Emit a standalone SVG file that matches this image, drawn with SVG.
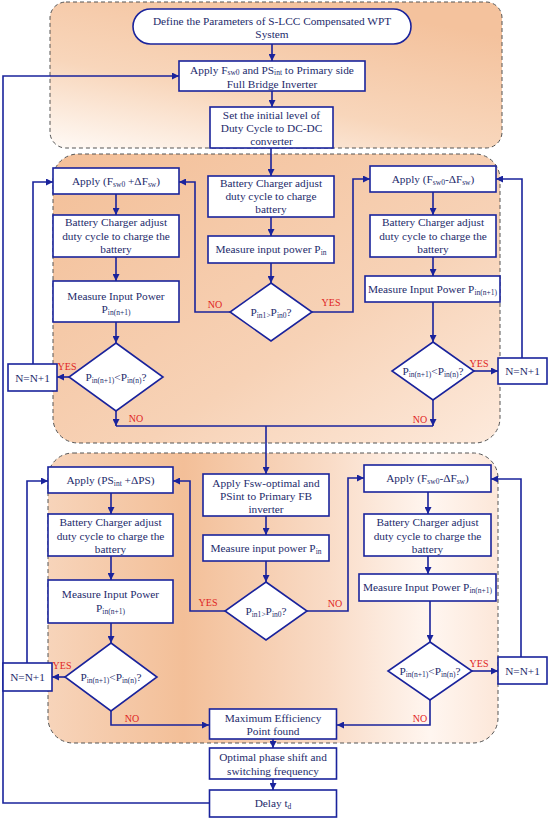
<svg xmlns="http://www.w3.org/2000/svg" width="550" height="820" viewBox="0 0 550 820">
<defs>
<linearGradient id="g1" x1="0" y1="1" x2="0.6" y2="0">
<stop offset="0" stop-color="#fffaf6"/><stop offset="0.45" stop-color="#f8d6bb"/><stop offset="1" stop-color="#f4c29d"/>
</linearGradient>
<linearGradient id="g2" x1="0" y1="0" x2="1" y2="1">
<stop offset="0" stop-color="#f3bf98"/><stop offset="0.6" stop-color="#f7d2b6"/><stop offset="1" stop-color="#fdeadc"/>
</linearGradient>
<linearGradient id="g3" x1="0" y1="0" x2="1" y2="0">
<stop offset="0" stop-color="#f7d4ba"/><stop offset="0.3" stop-color="#f3bf98"/><stop offset="0.62" stop-color="#f9dbc6"/><stop offset="0.85" stop-color="#fff6f0"/><stop offset="1" stop-color="#fce7d9"/>
</linearGradient>
<marker id="ah" viewBox="0 0 10 10" refX="10" refY="5" markerWidth="7" markerHeight="7" markerUnits="userSpaceOnUse" orient="auto">
<path d="M0,0 L10,5 L0,10 z" fill="#1a239c"/>
</marker>
<style>
.panel{stroke:#555;stroke-width:1;stroke-dasharray:4 3}
.box{fill:#fff;stroke:#1a239c;stroke-width:1.6}
.t{font-family:"Liberation Serif","Times New Roman",serif;font-size:11.3px;fill:#1d2a6b;text-anchor:middle}
.lab{font-family:"Liberation Serif","Times New Roman",serif;font-size:10px;fill:#e02424;text-anchor:middle}
.c path{fill:none;stroke:#1a239c;stroke-width:1.6}
.c .a{marker-end:url(#ah)}
</style>
</defs>

<g id="panels">
<rect class="panel" x="50" y="2" width="452" height="146" rx="16" fill="url(#g1)"/>
<rect class="panel" x="53" y="154" width="447" height="289" rx="25" fill="url(#g2)"/>
<rect class="panel" x="48" y="453" width="450" height="290" rx="25" fill="url(#g3)"/>
</g>

<g class="c" id="connectors">
<path class="a" d="M272,44 V61"/>
<path class="a" d="M272,91 V107"/>
<path class="a" d="M271,148 V176"/>
<path class="a" d="M271,217 V236"/>
<path class="a" d="M271,263 V283"/>
<path class="a" d="M230,312 H195 V182 H179"/>
<path class="a" d="M312,312 H353 V179 H370"/>
<path class="a" d="M116,194 V215"/>
<path class="a" d="M116,257 V281"/>
<path class="a" d="M116,322 V343"/>
<path class="a" d="M69,377 H57"/>
<path class="a" d="M33,364 V182 H53"/>
<path class="a" d="M116,411 V426"/>
<path d="M116,426 H433"/>
<path class="a" d="M433,192 V215"/>
<path class="a" d="M433,257 V276"/>
<path class="a" d="M433,302 V342"/>
<path class="a" d="M474,371 H498"/>
<path class="a" d="M522,358 V179 H496"/>
<path class="a" d="M433,400 V426"/>
<path class="a" d="M266,426 V474"/>
<path class="a" d="M266,516 V535"/>
<path class="a" d="M266,561 V582"/>
<path class="a" d="M225,611 H190 V481 H173"/>
<path class="a" d="M307,611 H348 V478 H364"/>
<path class="a" d="M111,493 V514"/>
<path class="a" d="M111,556 V580"/>
<path class="a" d="M111,623 V643"/>
<path class="a" d="M65,677 H52"/>
<path class="a" d="M27,663 V481 H48"/>
<path class="a" d="M111,711 V725 H209"/>
<path class="a" d="M428,492 V514"/>
<path class="a" d="M428,556 V574"/>
<path class="a" d="M430,601 V642"/>
<path class="a" d="M472,671 H498"/>
<path class="a" d="M521,657 V479 H491"/>
<path class="a" d="M430,700 V725 H337"/>
<path class="a" d="M273,739 V748"/>
<path class="a" d="M273,779 V790"/>
<path class="a" d="M209,803 H3 V76 H179"/>
</g>

<g id="labels">
<text class="lab" x="215" y="308">NO</text>
<text class="lab" x="331" y="306">YES</text>
<text class="lab" x="67" y="370">YES</text>
<text class="lab" x="136" y="422">NO</text>
<text class="lab" x="479" y="367">YES</text>
<text class="lab" x="420" y="423">NO</text>
<text class="lab" x="208" y="606">YES</text>
<text class="lab" x="335" y="607">NO</text>
<text class="lab" x="62" y="669">YES</text>
<text class="lab" x="132" y="722">NO</text>
<text class="lab" x="479" y="667">YES</text>
<text class="lab" x="420" y="722">NO</text>
</g>

<g id="start">
<rect class="box" x="133" y="9" width="278" height="35" rx="17.5"/>
<text class="t" x="272" y="25">Define the Parameters of S-LCC Compensated WPT</text>
<text class="t" x="272" y="38">System</text>
</g>
<g id="apply-init">
<rect class="box" x="179" y="61" width="186" height="30"/>
<text class="t" x="272" y="73.5">Apply F<tspan font-size="7.5" dy="1.5">sw0</tspan><tspan dy="-1.5"> and PS</tspan><tspan font-size="7.5" dy="1.5">int</tspan><tspan dy="-1.5"> to Primary side</tspan></text>
<text class="t" x="272" y="87.5">Full Bridge Inverter</text>
</g>
<g id="set-duty">
<rect class="box" x="210" y="107" width="123" height="41"/>
<text class="t" x="271.5" y="119">Set the initial level of</text>
<text class="t" x="271.5" y="132">Duty Cycle to DC-DC</text>
<text class="t" x="271.5" y="145">converter</text>
</g>

<g id="p2-charge">
<rect class="box" x="208" y="176" width="126" height="41"/>
<text class="t" x="271" y="187">Battery Charger adjust</text>
<text class="t" x="271" y="200">duty cycle to charge</text>
<text class="t" x="271" y="213">battery</text>
</g>
<g id="p2-measure">
<rect class="box" x="208" y="236" width="126" height="27"/>
<text class="t" x="271" y="253">Measure input power P<tspan font-size="7.5" dy="2">in</tspan></text>
</g>
<g id="p2-decision">
<polygon class="box" points="271,283 312,312 271,341 230,312"/>
<text class="t" x="271" y="316">P<tspan font-size="7.5" dy="2">in1</tspan><tspan font-size="7.5" dy="0">&gt;</tspan><tspan dy="-2">P</tspan><tspan font-size="7.5" dy="2">in0</tspan><tspan dy="-2">?</tspan></text>
</g>

<g id="p2-left-apply">
<rect class="box" x="53" y="168" width="126" height="26"/>
<text class="t" x="116" y="185">Apply (F<tspan font-size="7.5" dy="2">sw0</tspan><tspan dy="-2"> +ΔF</tspan><tspan font-size="7.5" dy="2">sw</tspan><tspan dy="-2">)</tspan></text>
</g>
<g id="p2-left-charge">
<rect class="box" x="53" y="215" width="126" height="42"/>
<text class="t" x="116" y="226">Battery Charger adjust</text>
<text class="t" x="116" y="240">duty cycle to charge the</text>
<text class="t" x="116" y="253">battery</text>
</g>
<g id="p2-left-measure">
<rect class="box" x="53" y="281" width="126" height="41"/>
<text class="t" x="116" y="300">Measure Input Power</text>
<text class="t" x="116" y="313">P<tspan font-size="7.5" dy="2">in(n+1)</tspan></text>
</g>
<g id="p2-left-decision">
<polygon class="box" points="116,343 163,377 116,411 69,377"/>
<text class="t" x="116" y="381">P<tspan font-size="7.5" dy="2">in(n+1)</tspan><tspan dy="-2">&lt;P</tspan><tspan font-size="7.5" dy="2">in(n)</tspan><tspan dy="-2">?</tspan></text>
</g>
<g id="p2-left-n">
<rect class="box" x="8" y="364" width="49" height="27"/>
<text class="t" x="32.5" y="382">N=N+1</text>
</g>

<g id="p2-right-apply">
<rect class="box" x="370" y="166" width="126" height="26"/>
<text class="t" x="433" y="183">Apply (F<tspan font-size="7.5" dy="2">sw0</tspan><tspan dy="-2">-ΔF</tspan><tspan font-size="7.5" dy="2">sw</tspan><tspan dy="-2">)</tspan></text>
</g>
<g id="p2-right-charge">
<rect class="box" x="370" y="215" width="126" height="42"/>
<text class="t" x="433" y="226">Battery Charger adjust</text>
<text class="t" x="433" y="240">duty cycle to charge the</text>
<text class="t" x="433" y="253">battery</text>
</g>
<g id="p2-right-measure">
<rect class="box" x="365" y="276" width="135" height="26"/>
<text class="t" x="432.5" y="293">Measure Input Power P<tspan font-size="7.5" dy="2">in(n+1)</tspan></text>
</g>
<g id="p2-right-decision">
<polygon class="box" points="433,342 474,371 433,400 392,371"/>
<text class="t" x="433" y="375">P<tspan font-size="7.5" dy="2">in(n+1)</tspan><tspan dy="-2">&lt;P</tspan><tspan font-size="7.5" dy="2">in(n)</tspan><tspan dy="-2">?</tspan></text>
</g>
<g id="p2-right-n">
<rect class="box" x="498" y="358" width="49" height="26"/>
<text class="t" x="522.5" y="375">N=N+1</text>
</g>

<g id="p3-apply">
<rect class="box" x="203" y="474" width="126" height="42"/>
<text class="t" x="266" y="487">Apply Fsw-optimal and</text>
<text class="t" x="266" y="500">PSint to Primary FB</text>
<text class="t" x="266" y="513">inverter</text>
</g>
<g id="p3-measure">
<rect class="box" x="203" y="535" width="126" height="26"/>
<text class="t" x="266" y="552">Measure input power P<tspan font-size="7.5" dy="2">in</tspan></text>
</g>
<g id="p3-decision">
<polygon class="box" points="266,582 307,611 266,640 225,611"/>
<text class="t" x="266" y="615">P<tspan font-size="7.5" dy="2">in1</tspan><tspan font-size="7.5" dy="0">&gt;</tspan><tspan dy="-2">P</tspan><tspan font-size="7.5" dy="2">in0</tspan><tspan dy="-2">?</tspan></text>
</g>

<g id="p3-left-apply">
<rect class="box" x="48" y="467" width="125" height="26"/>
<text class="t" x="110.5" y="484">Apply (PS<tspan font-size="7.5" dy="2">int</tspan><tspan dy="-2"> +ΔPS)</tspan></text>
</g>
<g id="p3-left-charge">
<rect class="box" x="48" y="514" width="125" height="42"/>
<text class="t" x="110.5" y="526">Battery Charger adjust</text>
<text class="t" x="110.5" y="540">duty cycle to charge the</text>
<text class="t" x="110.5" y="553">battery</text>
</g>
<g id="p3-left-measure">
<rect class="box" x="48" y="580" width="125" height="43"/>
<text class="t" x="110.5" y="598">Measure Input Power</text>
<text class="t" x="110.5" y="612">P<tspan font-size="7.5" dy="2">in(n+1)</tspan></text>
</g>
<g id="p3-left-decision">
<polygon class="box" points="111,643 157,677 111,711 65,677"/>
<text class="t" x="111" y="681">P<tspan font-size="7.5" dy="2">in(n+1)</tspan><tspan dy="-2">&lt;P</tspan><tspan font-size="7.5" dy="2">in(n)</tspan><tspan dy="-2">?</tspan></text>
</g>
<g id="p3-left-n">
<rect class="box" x="3" y="663" width="49" height="28"/>
<text class="t" x="27.5" y="681">N=N+1</text>
</g>

<g id="p3-right-apply">
<rect class="box" x="364" y="465" width="127" height="27"/>
<text class="t" x="427.5" y="482">Apply (F<tspan font-size="7.5" dy="2">sw0</tspan><tspan dy="-2">-ΔF</tspan><tspan font-size="7.5" dy="2">sw</tspan><tspan dy="-2">)</tspan></text>
</g>
<g id="p3-right-charge">
<rect class="box" x="364" y="514" width="127" height="42"/>
<text class="t" x="427.5" y="526">Battery Charger adjust</text>
<text class="t" x="427.5" y="540">duty cycle to charge the</text>
<text class="t" x="427.5" y="553">battery</text>
</g>
<g id="p3-right-measure">
<rect class="box" x="359" y="574" width="137" height="27"/>
<text class="t" x="427.5" y="591">Measure Input Power P<tspan font-size="7.5" dy="2">in(n+1)</tspan></text>
</g>
<g id="p3-right-decision">
<polygon class="box" points="430,642 472,671 430,700 388,671"/>
<text class="t" x="430" y="675">P<tspan font-size="7.5" dy="2">in(n+1)</tspan><tspan dy="-2">&lt;P</tspan><tspan font-size="7.5" dy="2">in(n)</tspan><tspan dy="-2">?</tspan></text>
</g>
<g id="p3-right-n">
<rect class="box" x="498" y="657" width="49" height="27"/>
<text class="t" x="522.5" y="675">N=N+1</text>
</g>

<g id="max-eff">
<rect class="box" x="209.5" y="709" width="127" height="30"/>
<text class="t" x="273" y="722">Maximum Efficiency</text>
<text class="t" x="273" y="735">Point found</text>
</g>
<g id="optimal">
<rect class="box" x="209.5" y="748" width="127" height="31"/>
<text class="t" x="273" y="761">Optimal phase shift and</text>
<text class="t" x="273" y="775">switching frequency</text>
</g>
<g id="delay">
<rect class="box" x="209.5" y="790" width="127" height="27"/>
<text class="t" x="273" y="807">Delay t<tspan font-size="7.5" dy="2">d</tspan></text>
</g>
</svg>
